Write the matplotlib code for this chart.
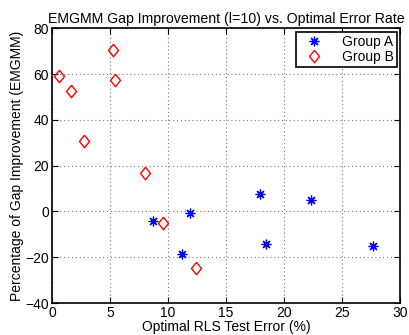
import matplotlib
matplotlib.use("Agg")
from matplotlib import pyplot as plt

plt.rcParams['font.family'] = ['Liberation Sans', 'DejaVu Sans']

# Group A (blue asterisks)
a_err = [8.7, 11.9, 11.2, 17.96, 22.35, 18.45, 27.7]
a_gap = [-4.2, -0.6, -18.4, 7.7, 5.1, -14.3, -15.0]

# Group B (red diamonds)
b_err = [0.6, 1.66, 2.76, 5.23, 5.4, 8.0, 9.6, 12.4]
b_gap = [59.0, 52.8, 30.9, 70.6, 57.5, 16.8, -5.1, -24.6]

xticks = [0, 5, 10, 15, 20, 25, 30]
yticks = [-40, -20, 0, 20, 40, 60, 80]

# matlab-ish diamond, a bit taller than wide
diamond = [(0, 1), (0.8, 0), (0, -1), (-0.8, 0), (0, 1)]

fig = plt.figure(figsize=(4.09, 3.35), dpi=100)
ax = fig.add_axes([0.127, 0.0955, 0.851, 0.82])

ax.plot(a_err, a_gap, linestyle='none', marker=(8, 2, 0), markersize=7,
        markeredgecolor='blue', markeredgewidth=0.9, label='Group A')
ax.plot(b_err, b_gap, linestyle='none', marker=diamond, markersize=9,
        markerfacecolor='none', markeredgecolor='red', markeredgewidth=1,
        label='Group B')

ax.set_xlim(0, 30)
ax.set_ylim(-40, 80)
ax.set_xticks(xticks)
ax.set_yticks(yticks)
ax.grid(True, linestyle=(0, (1, 2.5)), color='#777777', linewidth=0.8)
ax.tick_params(direction='in', length=4, labelsize=10, top=True, right=True, pad=2)
for s in ax.spines.values():
    s.set_linewidth(1.2)

ax.set_title('EMGMM Gap Improvement (l=10) vs. Optimal Error Rate', fontsize=10.2, pad=4)
ax.set_xlabel('Optimal RLS Test Error (%)', fontsize=10, labelpad=0)
ax.set_ylabel('Percentage of Gap Improvement (EMGMM)', fontsize=10, labelpad=1)

leg = ax.legend(loc='upper right', fontsize=10, fancybox=False, framealpha=1,
                edgecolor='black', borderaxespad=0.25, handletextpad=0.9,
                handlelength=2.2, borderpad=0.2, labelspacing=0.1)
leg.get_frame().set_linewidth(1.2)

fig.savefig('out.png', dpi=100)
